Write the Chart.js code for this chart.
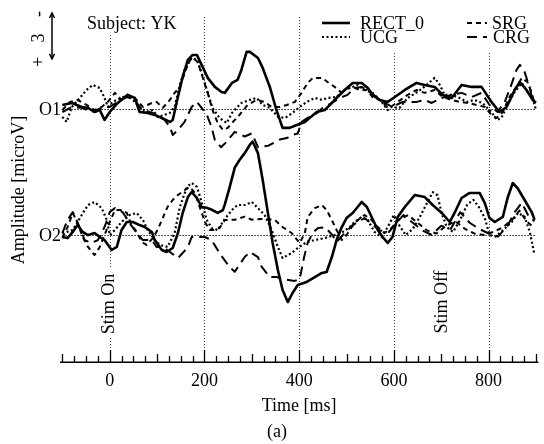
<!DOCTYPE html>
<html><head><meta charset="utf-8">
<script src="https://cdn.jsdelivr.net/npm/chart.js@4.4.1/dist/chart.umd.min.js"></script>
<style>html,body{margin:0;padding:0;background:#fff;}</style>
</head><body>
<canvas id="c" width="544" height="444"></canvas>
<script>
// ---------------- DATA (time [ms], amplitude [microV] relative to channel baseline) ----------------
const tickLabels = [0, 200, 400, 600, 800];
const channelNames = ['O1', 'O2'];
const channelOffsets = [8.24, 0];          // vertical offset of each channel trace [microV]
const scaleBarMicroV = 3;

const RECT_O1 = [[-100,0.26],[-80,0.39],[-59,0.13],[-46,0.07],[-32,-0.2],[-21,-0.07],[-11,-0.72],[0,-0.2],[17,0.39],[38,0.92],[53,0.72],[63,-0.2],[80,-0.26],[95,-0.39],[110,-0.59],[127,-0.85],[133,-0.72],[144,0.78],[154,2.09],[165,3.2],[175,3.53],[184,3.53],[194,2.88],[207,2.03],[222,1.44],[236,1.11],[243,1.05],[258,1.7],[270,1.9],[278,2.55],[289,3.73],[296,3.73],[313,3.33],[323,2.68],[338,1.44],[352,-0.07],[365,-1.24],[380,-1.24],[395,-1.05],[412,-0.85],[422,-0.59],[437,-0.2],[454,-0.07],[469,0.39],[481,0.78],[496,1.24],[513,1.7],[532,1.7],[545,1.37],[555,0.92],[570,0.59],[587,0.46],[602,0.78],[623,1.24],[648,1.7],[665,1.57],[686,1.44],[703,0.92],[722,0.72],[743,1.57],[764,1.44],[785,1.44],[806,0.46],[823,-0.2],[838,0.13],[855,1.24],[866,1.76],[880,1.24],[893,0.59],[900,0.4]];
const UCG_O1 = [[-100,-0.52],[-91,-0.85],[-80,0.13],[-63,0.72],[-49,1.24],[-36,1.57],[-21,1.37],[-11,0.72],[-4,0.13],[6,0.46],[25,0.72],[38,0.92],[53,0.46],[63,0.13],[78,-0.2],[91,-0.07],[101,-0.52],[116,-0.39],[127,-0.26],[137,0.13],[148,1.57],[158,2.55],[173,3.33],[184,3.2],[194,2.35],[205,1.24],[217,0.07],[232,-0.59],[247,-0.92],[258,-0.26],[278,0.39],[296,0.59],[310,0.72],[323,0.26],[338,0.07],[355,-0.52],[370,-0.59],[386,-0.26],[401,0.13],[416,0.46],[433,0.72],[448,0.59],[460,0.72],[479,0.78],[496,1.24],[513,1.44],[524,1.57],[538,1.24],[555,1.05],[574,0.46],[587,-0.07],[595,0.13],[612,0.07],[629,0.72],[650,1.11],[669,1.57],[686,2.03],[697,1.57],[707,0.92],[722,0.92],[739,0.72],[754,0.46],[770,0.59],[787,0.39],[806,-0.2],[817,-0.72],[827,-0.59],[840,0.26],[855,1.11],[870,1.7],[882,1.11],[893,0.72],[900,-0.07]];
const SRG_O1 = [[-100,-0.07],[-84,0.46],[-68,0.59],[-49,0.26],[-32,-0.07],[-17,0.13],[-4,0.46],[11,1.05],[25,0.59],[38,0.92],[57,0.59],[70,0.13],[89,0.39],[99,0.46],[112,0.07],[127,0.59],[137,1.05],[148,1.44],[163,2.75],[173,3.4],[186,3.07],[196,2.09],[207,1.05],[217,-0.07],[228,-0.92],[239,-1.37],[249,-1.24],[258,-0.92],[274,-0.39],[291,0.26],[310,0.59],[327,0.46],[342,0.13],[359,0.13],[374,0.26],[391,0.46],[405,1.05],[418,1.7],[429,2.03],[448,2.03],[460,1.76],[475,1.44],[490,1.05],[502,1.37],[513,1.44],[528,1.24],[543,1.24],[555,0.78],[570,0.59],[585,0.13],[591,0.07],[608,0.46],[629,0.92],[648,1.24],[665,1.05],[686,1.24],[703,0.78],[722,0.59],[739,0.46],[756,0.39],[775,0.26],[792,0.13],[806,-0.39],[817,-0.59],[830,-0.2],[844,0.78],[859,1.44],[870,2.03],[882,1.76],[891,1.05],[897,0.39]];
const CRG_O1 = [[-100,-0.2],[-80,0.13],[-59,0.07],[-38,-0.2],[-17,0.07],[0,0.13],[17,0.46],[36,0.78],[53,0.59],[68,-0.07],[84,-0.2],[101,-0.39],[116,-0.72],[127,-1.18],[133,-1.7],[144,-1.37],[158,-0.85],[173,0.13],[184,0.46],[194,0.07],[205,-0.39],[215,-1.18],[222,-2.03],[235,-2.5],[245,-2.2],[264,-1.5],[285,-1.8],[300,-1.6],[306,-2.0],[313,-2.5],[335,-2.4],[359,-2.0],[374,-1.9],[386,-1.7],[397,-1.6],[405,-0.85],[418,-0.59],[433,-0.39],[450,0.07],[469,0.39],[486,0.72],[502,0.92],[517,1.37],[532,1.44],[549,1.11],[566,0.72],[580,0.39],[597,0.13],[618,0.46],[648,0.46],[665,0.59],[680,0.39],[701,0.72],[722,0.92],[743,1.05],[764,0.78],[785,1.05],[802,0.26],[819,-0.2],[834,0.46],[844,1.24],[859,2.55],[866,2.88],[876,2.42],[887,1.37],[893,0.59]];

const RECT_O2 = [[-100,-0.13],[-89,-0.2],[-78,0.2],[-68,0.65],[-57,0.2],[-46,0],[-32,0.13],[-21,-0.13],[-11,-0.33],[4,-0.98],[15,-0.78],[25,0.33],[36,0.85],[49,0.85],[63,0.65],[74,0.52],[89,0.2],[95,-0.33],[110,-0.98],[120,-1.11],[133,-0.85],[144,0.13],[154,1.44],[165,2.48],[173,2.81],[184,2.42],[194,1.83],[207,1.76],[217,1.63],[228,1.44],[239,1.63],[243,2.0],[253,3.1],[264,4.4],[274,4.9],[285,5.35],[296,5.9],[302,6.1],[313,5.35],[323,3.6],[334,1.44],[344,-0.52],[355,-2.29],[365,-3.59],[376,-4.38],[386,-3.79],[397,-3.27],[416,-3.07],[433,-2.75],[448,-2.48],[458,-2.42],[469,-1.44],[479,-0.33],[490,0.52],[500,1.11],[513,1.44],[532,2.16],[543,1.83],[553,1.18],[566,0.33],[576,-0.13],[587,-0.52],[597,-0.13],[608,1.18],[623,1.83],[644,2.61],[665,2.48],[682,1.96],[701,1.44],[718,0.85],[728,1.44],[743,2.42],[760,2.75],[781,2.75],[792,2.09],[802,1.11],[813,0.85],[830,1.18],[840,2.42],[851,3.4],[861,3.07],[876,2.29],[891,1.5],[897,1.0]];
const UCG_O2 = [[-100,0.1],[-78,0.33],[-59,1.31],[-46,1.96],[-32,2.16],[-17,1.76],[-6,0.98],[0,0],[11,0.33],[25,0.85],[42,1.31],[57,1.44],[70,0.98],[80,0.33],[95,-0.33],[106,-0.65],[122,-0.78],[137,0.13],[148,1.83],[163,3.14],[173,3.4],[184,3.14],[194,2.16],[205,0.98],[215,0.46],[228,0.33],[243,1.05],[258,1.63],[270,1.96],[285,1.96],[300,2.16],[313,1.76],[327,1.31],[342,0.33],[355,-0.78],[365,-1.5],[384,-1.18],[397,-0.85],[416,-0.46],[433,-0.33],[454,-0.2],[475,0],[492,0.2],[507,0.52],[517,0.85],[532,1.18],[545,0.98],[559,0.2],[574,-0.13],[587,0.52],[600,1.3],[612,0.6],[625,0.0],[640,0.4],[655,1.2],[670,2.1],[682,2.8],[692,2.6],[701,1.4],[712,0.5],[725,0.2],[740,1.0],[755,2.0],[768,2.3],[780,1.8],[792,1.1],[802,0.0],[815,-0.1],[830,0.3],[850,0.9],[862,1.44],[876,1.2],[887,0.2],[897,-1.3]];
const SRG_O2 = [[-100,-0.2],[-89,0.52],[-78,1.44],[-68,0.78],[-57,-0.13],[-46,-0.78],[-32,-1.31],[-21,-0.78],[-11,0],[0,0.85],[11,1.63],[25,1.63],[36,1.44],[46,0.65],[57,0.2],[68,-0.46],[78,-0.65],[91,-0.2],[101,0.33],[112,1.11],[122,1.83],[133,2.29],[144,2.61],[158,2.94],[169,3.14],[180,2.75],[190,1.83],[201,0.85],[211,0.33],[222,0.33],[232,0.46],[243,0.98],[264,1.0],[285,1.2],[300,1.0],[320,1.05],[348,1.0],[365,0.52],[384,0.13],[401,-0.52],[412,0.13],[418,1.18],[433,1.76],[448,1.96],[458,1.63],[469,0.98],[479,0.33],[490,-0.33],[500,0.0],[511,0.52],[524,0.98],[538,1.31],[553,0.98],[566,0.52],[580,0.13],[595,0.46],[610,1.0],[630,1.3],[650,0.8],[670,0.3],[690,0.1],[710,0.6],[730,0.9],[750,0.4],[770,0.1],[790,0],[810,0.2],[830,0.5],[850,1.0],[865,1.6],[880,0.9],[895,0.5]];
const CRG_O2 = [[-100,0.13],[-89,0.98],[-78,1.5],[-68,0.85],[-53,-0.33],[-38,-0.52],[-25,-0.33],[-11,0.52],[0,1.5],[11,1.76],[27,1.5],[42,0.78],[57,0.13],[70,-0.33],[89,-0.33],[99,-0.78],[112,-0.78],[127,-1.11],[144,-1.5],[154,-1.18],[165,-0.78],[173,-0.13],[184,-0.13],[201,-0.13],[215,-0.33],[228,-0.98],[239,-1.5],[253,-2.09],[264,-2.4],[285,-1.44],[296,-1.11],[313,-1.44],[321,-2.09],[338,-2.75],[352,-2.75],[370,-2.9],[390,-3.0],[401,-2.9],[410,-1.5],[418,-0.5],[430,0.2],[440,0.46],[455,0.5],[470,0.0],[479,-0.46],[495,0.1],[513,0.65],[538,1.11],[550,0.8],[570,0.3],[590,0.2],[600,0.6],[620,1.3],[640,0.8],[660,0.3],[680,0.0],[700,0.6],[720,0.4],[740,1.5],[760,0.8],[780,0.4],[800,0.1],[820,-0.1],[840,0.6],[855,1.5],[870,2.1],[885,1.2],[897,0.9]];

// ---------------- STYLES ----------------
const SERIF = '"Liberation Serif", "Times New Roman", serif';
const F = s => s + 'px ' + SERIF;
const styles = {
  RECT_0: {dash: [], width: 2.6},
  UCG:    {dash: [2, 2.5], width: 2.2},
  SRG:    {dash: [5, 4], width: 2},
  CRG:    {dash: [10, 6], width: 2}
};
const series = [
  ['RECT_0', RECT_O1, RECT_O2],
  ['UCG', UCG_O1, UCG_O2],
  ['SRG', SRG_O1, SRG_O2],
  ['CRG', CRG_O1, CRG_O2]
];
const datasets = [];
series.slice().reverse().forEach(([name, o1, o2]) => {
  [o1, o2].forEach((arr, ci) => {
    datasets.push({
      label: name + ' ' + channelNames[ci],
      data: arr.map(([t, v]) => ({x: t, y: v + channelOffsets[ci]})),
      borderColor: '#000', borderWidth: styles[name].width, borderDash: styles[name].dash,
      pointRadius: 0, tension: 0, fill: false, borderJoinStyle: 'round'
    });
  });
});

function rotText(ctx, txt, bx, cy) {
  ctx.save(); ctx.translate(bx, cy); ctx.rotate(-Math.PI / 2);
  ctx.textAlign = 'center'; ctx.textBaseline = 'alphabetic';
  ctx.fillText(txt, 0, 0); ctx.restore();
}

const deco = {
  id: 'deco',
  beforeDatasetsDraw(chart) {
    const ctx = chart.ctx, xs = chart.scales.x, ys = chart.scales.y, ca = chart.chartArea;
    ctx.save();
    // vertical dotted guide lines
    ctx.strokeStyle = '#444'; ctx.lineWidth = 1; ctx.setLineDash([1, 2]);
    tickLabels.forEach(v => {
      const px = Math.round(xs.getPixelForValue(v)) + 0.5;
      ctx.beginPath(); ctx.moveTo(px, 17); ctx.lineTo(px, ca.bottom); ctx.stroke();
    });
    // channel baselines
    ctx.strokeStyle = '#222'; ctx.setLineDash([1.5, 1.5]);
    channelOffsets.forEach(off => {
      const py = Math.round(ys.getPixelForValue(off)) + 0.5;
      ctx.beginPath(); ctx.moveTo(xs.getPixelForValue(-100), py); ctx.lineTo(xs.getPixelForValue(900), py); ctx.stroke();
    });
    ctx.setLineDash([]);
    // white masks behind texts
    ctx.fillStyle = '#fff';
    ctx.fillRect(84, 10, 100, 24);
    ctx.fillRect(318, 6, 222, 46);
    ctx.fillRect(99, 268, 18, 70);
    ctx.fillStyle = '#000';
    // text
    ctx.font = F(18);
    ctx.textAlign = 'left'; ctx.textBaseline = 'alphabetic';
    ctx.fillText('Subject: YK', 87, 29);
    // legend
    const legend = [['RECT_0', 322, 23, 360, 29], ['SRG', 467, 23, 492, 29], ['UCG', 322, 37, 360, 43], ['CRG', 467, 37, 493, 43]];
    legend.forEach(([name, lx, ly, tx, ty]) => {
      ctx.save();
      ctx.strokeStyle = '#000'; ctx.lineWidth = styles[name].width; ctx.setLineDash(styles[name].dash);
      const len = name === 'RECT_0' || name === 'UCG' ? 28 : 20;
      ctx.beginPath(); ctx.moveTo(lx, ly); ctx.lineTo(lx + len, ly); ctx.stroke();
      ctx.restore();
      ctx.fillText(name, tx, ty);
    });
    // channel labels
    ctx.textAlign = 'right'; ctx.textBaseline = 'middle';
    channelNames.forEach((n, i) => ctx.fillText(n, 61, ys.getPixelForValue(channelOffsets[i]) + 1));
    // rotated texts
    rotText(ctx, 'Amplitude [microV]', 24, 190);
    rotText(ctx, 'Stim On', 114, 304);
    rotText(ctx, 'Stim Off', 447, 302);
    // scale bar
    const top = 13, bot = top + (ys.getPixelForValue(0) - ys.getPixelForValue(scaleBarMicroV));
    ctx.lineWidth = 1.5; ctx.strokeStyle = '#000';
    ctx.beginPath(); ctx.moveTo(52, top); ctx.lineTo(52, bot); ctx.stroke();
    ctx.beginPath(); ctx.moveTo(49.5, top + 5); ctx.lineTo(52, top); ctx.lineTo(54.5, top + 5); ctx.stroke();
    ctx.beginPath(); ctx.moveTo(49.5, bot - 5); ctx.lineTo(52, bot); ctx.lineTo(54.5, bot - 5); ctx.stroke();
    ctx.save(); ctx.translate(44, 38); ctx.rotate(-Math.PI / 2);
    ctx.textAlign = 'center'; ctx.textBaseline = 'alphabetic';
    ctx.fillText('+', -24, 0); ctx.fillText(String(scaleBarMicroV), 0, 0); ctx.fillText('-', 24, 0);
    ctx.restore();
    // x axis line and inward ticks
    ctx.lineWidth = 1.5;
    ctx.beginPath(); ctx.moveTo(ca.left, ca.bottom + 0.25); ctx.lineTo(ca.right, ca.bottom + 0.25); ctx.stroke();
    ctx.lineWidth = 1.3;
    xs.ticks.forEach(t => {
      const v = t.value;
      const h = v % 200 === 0 ? 12 : (v % 100 === 0 ? 8 : 6);
      const px = Math.round(xs.getPixelForValue(v)) + 0.5;
      ctx.beginPath(); ctx.moveTo(px, ca.bottom); ctx.lineTo(px, ca.bottom - h); ctx.stroke();
    });
    // axis title and caption
    ctx.textAlign = 'center'; ctx.textBaseline = 'middle';
    ctx.fillText('Time [ms]', xs.getPixelForValue(400), 406);
    ctx.fillText('(a)', 277, 432);
    ctx.restore();
  }
};

const minorTickValues = [];
for (let v = -100; v <= 900; v += 25) minorTickValues.push(v);

new Chart(document.getElementById('c'), {
  type: 'line',
  data: {datasets},
  options: {
    responsive: false, animation: false, devicePixelRatio: 1,
    layout: {padding: {left: 0, right: 5, top: 0, bottom: 0}},
    plugins: {legend: {display: false}, tooltip: {enabled: false}},
    scales: {
      x: {
        type: 'linear', min: -105, max: 905,
        afterBuildTicks: s => { s.ticks = minorTickValues.map(v => ({value: v})); },
        afterFit: s => { s.height = 82; },
        grid: {display: false, drawTicks: false}, border: {display: false},
        ticks: {autoSkip: false, maxRotation: 0, padding: 8, color: '#000', font: {family: SERIF, size: 18},
                callback: v => tickLabels.includes(v) ? String(v) : ''}
      },
      y: {
        type: 'linear', min: -8.3, max: 15.36,
        afterFit: s => { s.width = 60; },
        grid: {display: false}, border: {display: false}, ticks: {display: false}
      }
    }
  },
  plugins: [deco]
});
</script>
</body></html>
